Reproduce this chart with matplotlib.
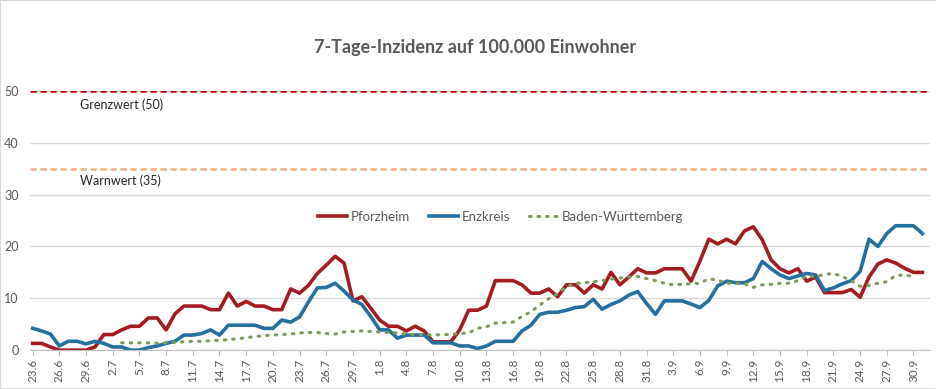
import numpy as np
import pandas as pd
import matplotlib
matplotlib.use("Agg")
import matplotlib.pyplot as plt

plt.rcParams['font.family'] = ['Lato', 'DejaVu Sans']

# daily values 23.6. - 1.10.
dates = pd.date_range("2020-06-23", "2020-10-01", freq="D")

pforzheim = [1.3, 1.3, 0.6, 0, 0, 0, 0, 0.6, 3.0, 3.0,
             3.9, 4.6, 4.6, 6.2, 6.2, 3.9, 7.0, 8.5, 8.5, 8.5,
             7.8, 7.8, 11.0, 8.5, 9.4, 8.5, 8.5, 7.8, 7.8, 11.8,
             11.0, 12.5, 14.8, 16.4, 18.1, 16.8, 9.5, 10.3, 8.1, 5.8,
             4.6, 4.6, 3.7, 4.6, 3.7, 1.6, 1.6, 1.6, 3.9, 7.7,
             7.7, 8.5, 13.4, 13.4, 13.4, 12.6, 11.0, 11.0, 11.8, 10.3,
             12.6, 12.6, 11.0, 12.6, 11.8, 15.0, 12.6, 14.1, 15.7, 14.9,
             14.9, 15.7, 15.7, 15.7, 13.3, 17.2, 21.4, 20.5, 21.4, 20.5,
             23.0, 23.8, 21.3, 17.4, 15.7, 14.9, 15.7, 13.3, 14.1, 11.1,
             11.1, 11.1, 11.7, 10.2, 14.1, 16.6, 17.4, 16.8, 15.8, 15.0,
             15.0]

enzkreis = [4.2, 3.7, 3.1, 0.8, 1.7, 1.7, 1.2, 1.7, 1.3, 0.6,
            0.6, 0, 0, 0.5, 0.8, 1.3, 1.7, 2.9, 2.9, 3.2,
            3.9, 2.9, 4.8, 4.8, 4.8, 4.8, 4.2, 4.2, 5.8, 5.4,
            6.4, 9.3, 12.0, 12.1, 12.9, 11.4, 9.7, 8.8, 6.5, 3.9,
            3.9, 2.3, 2.9, 2.9, 2.9, 1.4, 1.4, 1.4, 0.8, 0.8,
            0.3, 0.8, 1.7, 1.7, 1.7, 3.7, 4.8, 6.9, 7.3, 7.3,
            7.7, 8.2, 8.4, 9.8, 7.9, 8.8, 9.5, 10.6, 11.3, 9.0,
            6.9, 9.5, 9.5, 9.5, 8.9, 8.2, 9.6, 12.4, 13.3, 13.0,
            13.0, 13.8, 17.1, 15.7, 14.5, 13.8, 14.3, 14.8, 14.5, 11.5,
            12.0, 12.8, 13.4, 15.2, 21.4, 20.0, 22.5, 24.0, 24.0, 24.0,
            22.5]

bw = [np.nan] * 10 + [
      1.4, 1.4, 1.4, 1.4, 1.3, 1.4, 1.5, 1.6, 1.7, 1.7,
      1.8, 1.9, 2.0, 2.2, 2.4, 2.6, 2.8, 2.9, 3.0, 3.1,
      3.3, 3.4, 3.4, 3.2, 3.1, 3.5, 3.6, 3.7, 3.6, 3.5,
      3.4, 3.3, 3.1, 3.0, 3.0, 2.9, 3.0, 3.0, 3.2, 3.3,
      4.2, 4.5, 5.2, 5.3, 5.4, 6.5, 7.4, 8.7, 9.9, 10.9,
      12.2, 12.9, 13.0, 13.2, 13.4, 13.7, 13.9, 14.1, 14.2, 13.8,
      13.4, 12.9, 12.6, 12.7, 12.8, 12.9, 13.8, 13.5, 12.9, 12.9,
      12.8, 12.1, 12.6, 12.7, 12.9, 12.9, 13.4, 14.3, 14.2, 14.6,
      14.8, 14.2, 13.4, 12.3, 12.5, 12.9, 13.2, 14.4, 14.5, 14.2,
      np.nan]

grenzwert = 50
warnwert = 35
tick_labels = [f"{d.day}.{d.month}" for d in dates[::3]]

x = np.arange(len(dates))
grey = "#595959"

fig = plt.figure(figsize=(9.37, 3.89), dpi=100)
ax = fig.add_axes([0.032, 0.100, 0.960, 0.666])

ax.set_ylim(0, 50)
ax.set_xlim(-0.3, 100.8)
ax.set_yticks(range(0, 51, 10))
ax.yaxis.grid(True, color="#d9d9d9", linewidth=1)
ax.set_axisbelow(True)

ax.axhline(grenzwert, color="#c00000", linestyle=(0, (2.5, 1.5)), linewidth=1.8)
ax.axhline(warnwert, color="#f4b183", linestyle=(0, (2.5, 1.5)), linewidth=1.8)
ax.text(5.3, 47.3, "Grenzwert (50)", color="#262626", fontsize=9, va="center")
ax.text(5.3, 32.6, "Warnwert (35)", color="#262626", fontsize=9, va="center")

ax.plot(x, pforzheim, color="#a31c22", linewidth=2.6, label="Pforzheim")
ax.plot(x, enzkreis, color="#25709e", linewidth=2.6, label="Enzkreis")
ax.plot(x, bw, color="#7c9a5a", linewidth=2.2, linestyle=(0, (0.5, 2.3)),
        dash_capstyle="round", label="Baden-Württemberg")

ax.set_xticks(x[::3])
ax.set_xticklabels(tick_labels, rotation=90, fontsize=8.5, color=grey)
ax.tick_params(axis="x", length=4, color="#bfbfbf", pad=2)
ax.tick_params(axis="y", length=0, labelsize=9, labelcolor=grey, pad=8)

for s in ["left", "right", "top"]:
    ax.spines[s].set_visible(False)
ax.spines["bottom"].set_color("#bfbfbf")

leg = ax.legend(loc="center", bbox_to_anchor=(0.523, 0.514), ncol=3, frameon=False,
                fontsize=9.5, handlelength=2.2, columnspacing=1.4, handletextpad=0.3)
for t in leg.get_texts():
    t.set_color(grey)

fig.text(0.507, 0.878, "7-Tage-Inzidenz auf 100.000 Einwohner", ha="center", va="center",
         fontsize=13, fontweight="bold", color=grey)

fig.patches.append(plt.Rectangle((0, 0), 1, 1, transform=fig.transFigure, fill=False,
                                 edgecolor="#d9d9d9", linewidth=1.5))

fig.savefig("out.png", dpi=100)
